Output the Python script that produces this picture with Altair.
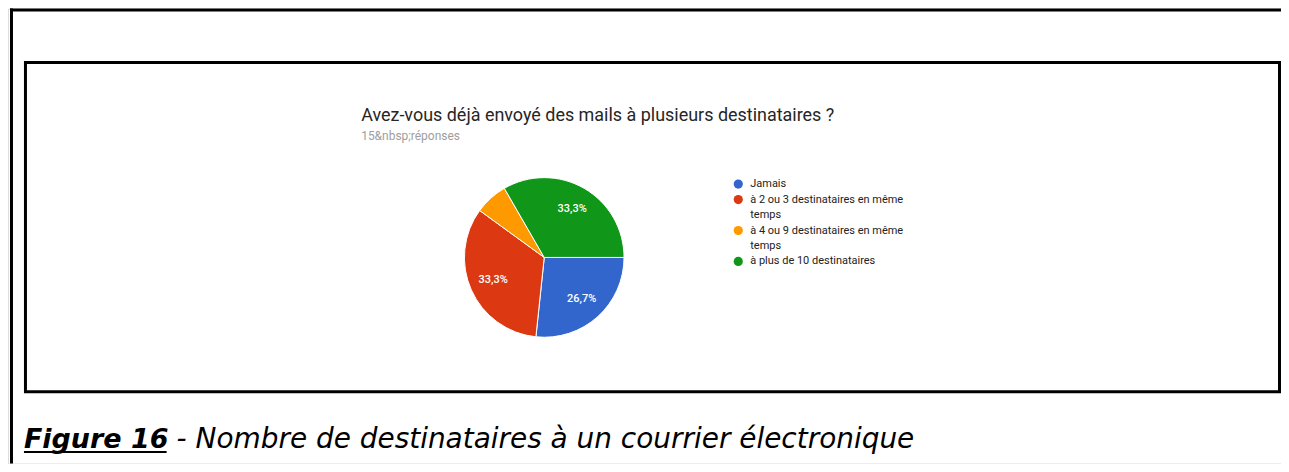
import math
import altair as alt
import pandas as pd

# ---- data ----
categories = [
    "Jamais",
    "à 2 ou 3 destinataires en même temps",
    "à 4 ou 9 destinataires en même temps",
    "à plus de 10 destinataires",
]
counts = [4, 5, 1, 5]
colors = ["#3366cc", "#dc3912", "#ff9900", "#109618"]
legend_lines = [
    ["Jamais"],
    ["à 2 ou 3 destinataires en même", "temps"],
    ["à 4 ou 9 destinataires en même", "temps"],
    ["à plus de 10 destinataires"],
]
title_text = "Avez-vous déjà envoyé des mails à plusieurs destinataires ?"
subtitle_text = "15&nbsp;réponses"
caption_bold = "Figure 16"
caption_rest = "- Nombre de destinataires à un courrier électronique"

total = sum(counts)
pie_df = pd.DataFrame({
    "cat": categories,
    "count": counts,
    "idx": list(range(len(categories))),
})
pie_df["pct"] = pie_df["count"] / total * 100
pie_df["label"] = [
    (f"{p:.1f}".replace(".", ",") + "%") if p >= 10 else "" for p in pie_df["pct"]
]

rows = []
line = 0
for cat, lines in zip(categories, legend_lines):
    for j, t in enumerate(lines):
        rows.append({"cat": cat, "text": t, "line": line, "first": j == 0})
        line += 1
leg_df = pd.DataFrame(rows)

W, H = 1276, 456
CX, CY, R = 537.5, 249.5, 80

color_scale = alt.Scale(domain=categories, range=colors)
theta_scale = alt.Scale(range=[math.pi / 2, math.pi / 2 + 2 * math.pi])

base_pie = alt.Chart(pie_df)

arcs = base_pie.mark_arc(outerRadius=R, stroke="white", strokeWidth=1).encode(
    theta=alt.Theta("count:Q", stack=True, scale=theta_scale),
    order=alt.Order("idx:Q"),
    color=alt.Color("cat:N", scale=color_scale, legend=None),
    x=alt.value(CX),
    y=alt.value(CY),
)

slice_labels = base_pie.mark_text(
    radius=56, color="white", fontSize=11, font="Roboto", fontWeight=500,
    align="center", baseline="middle",
).encode(
    theta=alt.Theta("count:Q", stack=True, scale=theta_scale),
    order=alt.Order("idx:Q"),
    text="label:N",
    x=alt.value(CX),
    y=alt.value(CY),
)

ly = alt.Y("line:Q", scale=alt.Scale(domain=[0, 5], range=[176, 253.5]), axis=None)

leg_points = alt.Chart(leg_df).transform_filter("datum.first").mark_point(
    filled=True, size=85, opacity=1, shape="circle"
).encode(
    x=alt.value(732),
    y=ly,
    color=alt.Color("cat:N", scale=color_scale, legend=None),
)

leg_text = alt.Chart(leg_df).mark_text(
    align="left", baseline="middle", fontSize=11, font="Roboto", color="#222222"
).encode(
    x=alt.value(744),
    y=ly,
    text="text:N",
)

title = alt.Chart(pd.DataFrame({"t": [title_text]})).mark_text(
    align="left", baseline="alphabetic", fontSize=18, font="Roboto", color="#262626"
).encode(x=alt.value(354), y=alt.value(113), text="t:N")

sub = alt.Chart(pd.DataFrame({"t": [subtitle_text]})).mark_text(
    align="left", baseline="alphabetic", fontSize=12, font="Roboto", color="#9e9e9e"
).encode(x=alt.value(354), y=alt.value(132), text="t:N")

cap1 = alt.Chart(pd.DataFrame({"t": [caption_bold]})).mark_text(
    align="left", baseline="alphabetic", fontSize=27, font="DejaVu Sans",
    fontWeight="bold", fontStyle="italic", color="black",
).encode(x=alt.value(16), y=alt.value(440), text="t:N")

cap2 = alt.Chart(pd.DataFrame({"t": [caption_rest]})).mark_text(
    align="left", baseline="alphabetic", fontSize=28, font="DejaVu Sans",
    fontStyle="italic", color="black",
).encode(x=alt.value(169), y=alt.value(440), text="t:N")

deco = alt.Chart(pd.DataFrame({"d": [0]}))

underline = deco.mark_rule(color="black", strokeWidth=2).encode(
    x=alt.value(16), x2=alt.value(159), y=alt.value(444.5)
)
outer_top = deco.mark_rule(color="black", strokeWidth=3).encode(
    x=alt.value(2), x2=alt.value(W), y=alt.value(1.5)
)
outer_left = deco.mark_rule(color="black", strokeWidth=3).encode(
    x=alt.value(3.5), y=alt.value(0), y2=alt.value(H)
)
inner = deco.mark_rect(fill=None, stroke="black", strokeWidth=3).encode(
    x=alt.value(17.5), x2=alt.value(1274.5), y=alt.value(54), y2=alt.value(384)
)

chart = alt.layer(
    outer_top, outer_left, inner, arcs, slice_labels, leg_points, leg_text,
    title, sub, cap1, cap2, underline,
).properties(
    width=W, height=H, padding=0, autosize=alt.AutoSizeParams(type="none"),
).configure_view(stroke=None).configure(background="white")

chart.save("out.html", embed_options={"renderer": "svg", "actions": False})
